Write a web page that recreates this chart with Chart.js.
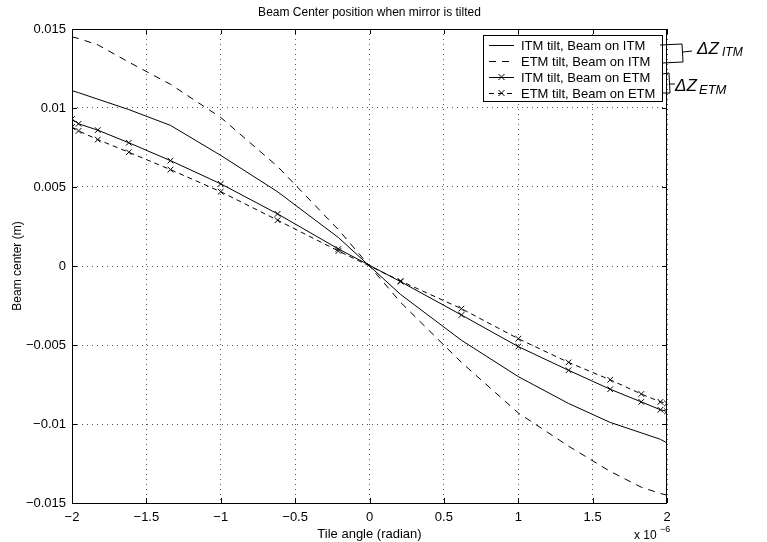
<!DOCTYPE html>
<html>
<head>
<meta charset="utf-8">
<script src="https://cdn.jsdelivr.net/npm/chart.js@4.4.0/dist/chart.umd.min.js"></script>
<style>
  html, body { margin: 0; padding: 0; background: #fff; }
  #wrap { width: 767px; height: 542px; }
</style>
</head>
<body>
<div id="wrap"><canvas id="beamChart" width="767" height="542"></canvas></div>
<script>
// tilt angle, in units of 1e-6 rad
const tiltAngle = [-2, -1.956, -1.827, -1.618, -1.338, -1, -0.618, -0.209, 0.209, 0.618, 1, 1.338, 1.618, 1.827, 1.956, 2];

// beam center (m)
const itmTiltOnItm = [0.0111, 0.01097, 0.01056, 0.0099, 0.0089, 0.0070, 0.0047, 0.0018, -0.0018, -0.0047, -0.0070, -0.0087, -0.0099, -0.01056, -0.01097, -0.0112];
const etmTiltOnItm = [0.0145, 0.0144, 0.0140, 0.0129, 0.0115, 0.0094, 0.0063, 0.0023, -0.0023, -0.0061, -0.0093, -0.0114, -0.0130, -0.0140, -0.0144, -0.0145];
const itmTiltOnEtm = [0.0093, 0.0090, 0.0086, 0.0078, 0.00667, 0.0052, 0.0033, 0.00108, -0.00099, -0.0031, -0.0051, -0.0066, -0.0078, -0.0086, -0.0091, -0.0092];
const etmTiltOnEtm = [0.0088, 0.00855, 0.0080, 0.0072, 0.0061, 0.0047, 0.0029, 0.00095, -0.00095, -0.0027, -0.0046, -0.0061, -0.0072, -0.0081, -0.0086, -0.0087];

const seriesLabels = ["ITM tilt, Beam on ITM", "ETM tilt, Beam on ITM", "ITM tilt, Beam on ETM", "ETM tilt, Beam on ETM"];

const xTicks = [-2, -1.5, -1, -0.5, 0, 0.5, 1, 1.5, 2];
const yTicks = [-0.015, -0.01, -0.005, 0, 0.005, 0.01, 0.015];

const FONT = "'Liberation Sans', Arial, sans-serif";

function pts(ys) {
  return tiltAngle.map((x, i) => ({ x: x, y: ys[i] }));
}
function fmt(v) {
  const s = String(Number(v.toFixed(4)));
  return s.replace("-", "\u2212");
}

// frame, inward ticks, legend and side notes
const decorPlugin = {
  id: "decor",
  afterDraw(chart) {
    const ctx = chart.ctx;
    const a = chart.chartArea;
    const xs = chart.scales.x, ys = chart.scales.y;
    ctx.save();
    ctx.strokeStyle = "#000";
    ctx.lineWidth = 1;
    ctx.setLineDash([]);
    ctx.strokeRect(a.left + 0.5, a.top + 0.5, a.right - a.left - 1, a.bottom - a.top);
    ctx.beginPath();
    xTicks.forEach(v => {
      const px = Math.round(xs.getPixelForValue(v)) + 0.5;
      ctx.moveTo(px, a.bottom); ctx.lineTo(px, a.bottom - 5);
      ctx.moveTo(px, a.top); ctx.lineTo(px, a.top + 5);
    });
    yTicks.forEach(v => {
      const py = Math.round(ys.getPixelForValue(v)) + 0.5;
      ctx.moveTo(a.left, py); ctx.lineTo(a.left + 5, py);
      ctx.moveTo(a.right, py); ctx.lineTo(a.right - 5, py);
    });
    ctx.stroke();

    // title centred over the plot area
    ctx.fillStyle = "#000";
    ctx.font = "12px " + FONT;
    ctx.textAlign = "center";
    ctx.textBaseline = "middle";
    ctx.fillText("Beam Center position when mirror is tilted", (a.left + a.right) / 2, 13);

    // axis multiplier
    ctx.textAlign = "left";
    ctx.font = "12px " + FONT;
    ctx.fillText("x 10", 634, 536);
    ctx.font = "9px " + FONT;
    ctx.fillText("\u22126", 660, 530);

    // legend
    const lx = 483, ly = 35, lw = 179, lh = 66;
    ctx.fillStyle = "#fff";
    ctx.fillRect(lx, ly, lw, lh);
    ctx.strokeRect(lx + 0.5, ly + 0.5, lw, lh);
    chart.data.datasets.forEach((ds, i) => {
      const y = 45 + i * 16;
      ctx.beginPath();
      ctx.setLineDash(ds.borderDash || []);
      ctx.moveTo(489, y + 0.5); ctx.lineTo(514, y + 0.5);
      ctx.stroke();
      ctx.setLineDash([]);
      if (ds.pointRadius > 0) {
        ctx.beginPath();
        ctx.moveTo(498.5, y - 3); ctx.lineTo(504.5, y + 3);
        ctx.moveTo(498.5, y + 3); ctx.lineTo(504.5, y - 3);
        ctx.stroke();
      }
      ctx.fillStyle = "#000";
      ctx.font = "13px " + FONT;
      ctx.textBaseline = "middle";
      ctx.fillText(ds.label, 521, y + 1);
    });

    // handwritten notes next to the legend
    ctx.beginPath();
    ctx.moveTo(660, 45); ctx.lineTo(682, 44);
    ctx.lineTo(683, 62); ctx.lineTo(662, 63);
    ctx.moveTo(683, 52); ctx.lineTo(692, 51);
    ctx.moveTo(662, 74); ctx.lineTo(669, 73);
    ctx.lineTo(670, 93); ctx.lineTo(662, 93);
    ctx.moveTo(670, 84); ctx.lineTo(675, 84);
    ctx.stroke();
    ctx.font = "italic 17px " + FONT;
    ctx.fillText("\u0394Z", 697, 49);
    ctx.font = "italic 12px " + FONT;
    ctx.fillText("ITM", 722, 53);
    ctx.font = "italic 17px " + FONT;
    ctx.fillText("\u0394Z", 675, 86);
    ctx.font = "italic 13px " + FONT;
    ctx.fillText("ETM", 699, 90);
    ctx.restore();
  }
};

const common = { borderColor: "#000", backgroundColor: "#000", borderWidth: 1, fill: false, tension: 0, showLine: true };

new Chart(document.getElementById("beamChart").getContext("2d"), {
  type: "scatter",
  data: {
    datasets: [
      Object.assign({ label: seriesLabels[0], data: pts(itmTiltOnItm), pointRadius: 0 }, common),
      Object.assign({ label: seriesLabels[1], data: pts(etmTiltOnItm), pointRadius: 0, borderDash: [7, 6] }, common),
      Object.assign({ label: seriesLabels[2], data: pts(itmTiltOnEtm), pointRadius: 4, pointStyle: "crossRot", pointBorderWidth: 1 }, common),
      Object.assign({ label: seriesLabels[3], data: pts(etmTiltOnEtm), pointRadius: 4, pointStyle: "crossRot", pointBorderWidth: 1, borderDash: [5, 4] }, common),
    ],
  },
  options: {
    responsive: false,
    animation: false,
    layout: { padding: { top: 29, right: 100, left: 0, bottom: 0 } },
    plugins: { legend: { display: false }, title: { display: false }, tooltip: { enabled: false } },
    scales: {
      x: {
        type: "linear",
        min: -2, max: 2,
        afterBuildTicks: s => { s.ticks = xTicks.map(v => ({ value: v })); },
        afterFit: s => { s.height = 39; },
        ticks: { color: "#000", font: { family: FONT, size: 13 }, padding: 7, callback: v => fmt(v), maxRotation: 0 },
        grid: { color: "#555", lineWidth: 1, drawTicks: false },
        border: { display: false, dash: [1, 4] },
        title: { display: true, text: "Tile angle (radian)", color: "#000", font: { family: FONT, size: 13 }, padding: { top: 0, bottom: 0 } },
      },
      y: {
        type: "linear",
        min: -0.015, max: 0.015,
        afterBuildTicks: s => { s.ticks = yTicks.map(v => ({ value: v })); },
        afterFit: s => { s.width = 72; },
        ticks: { color: "#000", font: { family: FONT, size: 13 }, padding: 6, callback: v => fmt(v) },
        grid: { color: "#555", lineWidth: 1, drawTicks: false },
        border: { display: false, dash: [1, 4] },
        title: { display: true, text: "Beam center (m)", color: "#000", font: { family: FONT, size: 12 }, padding: { top: 10, bottom: 10 } },
      },
    },
  },
  plugins: [decorPlugin],
});
</script>
</body>
</html>
